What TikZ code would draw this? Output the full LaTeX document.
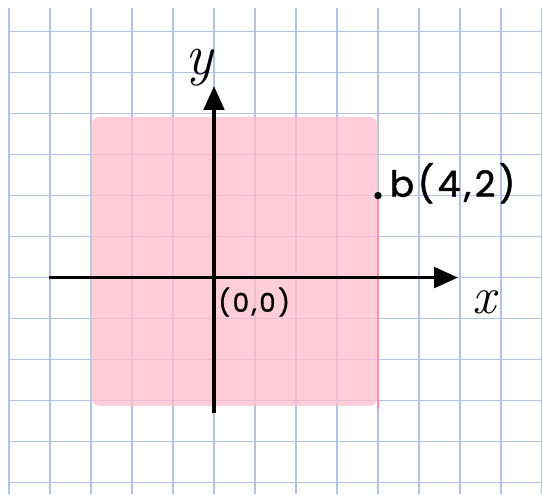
\documentclass[tikz,border=0pt]{standalone}
\usepackage{fontspec}
\newfontfamily\labfont{Poppins}
\newfontfamily\labfontwide[LetterSpace=10,FakeBold=1.2]{Poppins}
\usetikzlibrary{arrows.meta}
\definecolor{gridblue}{RGB}{180,195,225}
\definecolor{pinkfill}{RGB}{255,188,205}
\definecolor{pinkline}{RGB}{255,140,168}
\tikzset{
  gridline/.style={draw=gridblue, line width=0.9pt},
  axisline/.style={line width=2.3pt, -{Triangle[length=0.58cm,width=0.5cm]}},
  lab/.style={inner sep=0pt}
}
\begin{document}
\begin{tikzpicture}
\useasboundingbox (-5.22,-5.28) rectangle (8.0,6.77);
\fill[white] (-5.22,-5.28) rectangle (8.0,6.77);
% grid
\foreach \i in {-5,...,8} {\draw[gridline] (\i,-5.28) -- (\i,6.58);}
\foreach \j in {-5,...,6} {\draw[gridline] (-5.02,\j) -- (8.0,\j);}
% pink region
\fill[pinkfill, opacity=0.72, rounded corners=0.22cm] (-3.0,-3.13) rectangle (4.0,3.92);
\draw[pinkline, line width=1.6pt] (4,2) -- (4,-3.2);
% axes
\coordinate (xs) at (-4.02,0);
\coordinate (xe) at (5.95,0);
\coordinate (ys) at (0,-3.31);
\coordinate (ye) at (0,4.67);
\draw[axisline] (xs) -- (xe);
\draw[axisline] (ys) -- (ye);
% point b
\fill (4,2) circle (0.09);
\node[lab, font=\fontsize{25}{27}\labfontwide, anchor=west] (blab) at (4.28,2.3) {b(4,2)};
\node[lab, font=\fontsize{18}{20}\labfontwide] (olab) at (0.98,-0.6) {(0,0)};
\node[lab, font=\fontsize{40}{42}\selectfont\itshape] (ylab) at (-0.36,5.12) {y};
\node[lab, font=\fontsize{36}{38}\selectfont\itshape] (xlab) at (6.6,-0.6) {x};
\end{tikzpicture}
\end{document}
